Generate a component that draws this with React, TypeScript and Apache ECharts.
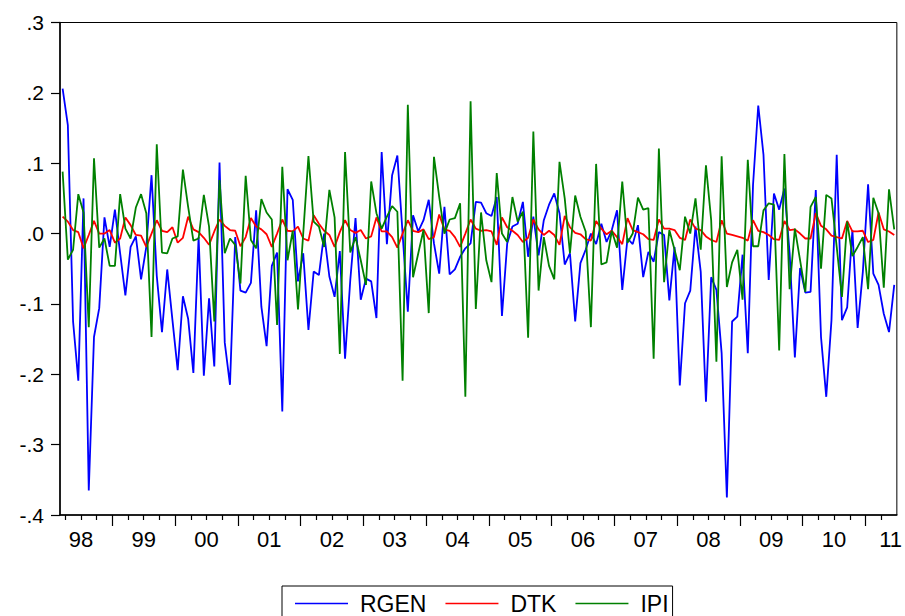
import React, { useEffect, useRef } from "react";
import * as echarts from "echarts";

// Monthly observations, 1998M03 .. 2011M06 (160 obs)
const START_MONTH_INDEX = 2; // March (0-based months since Jan 1998)

const yearLabels = ["98", "99", "00", "01", "02", "03", "04", "05", "06", "07", "08", "09", "10", "11"];
const yTickLabels: Record<string, string> = {
  "0.3": ".3", "0.2": ".2", "0.1": ".1", "0.0": ".0",
  "-0.1": "-.1", "-0.2": "-.2", "-0.3": "-.3", "-0.4": "-.4",
};

const RGEN = [
  0.206, 0.154, -0.125, -0.209, 0.05, -0.365, -0.147, -0.106, 0.023, -0.019,
  0.034, -0.028, -0.088, -0.019, -0.004, -0.065, -0.019, 0.083, -0.06, -0.14,
  -0.051, -0.123, -0.194, -0.089, -0.121, -0.198, -0.005, -0.202, -0.092, -0.189,
  0.101, -0.155, -0.215, -0.005, -0.081, -0.084, -0.07, 0.033, -0.104, -0.16,
  -0.046, -0.027, -0.253, 0.063, 0.048, -0.068, -0.028, -0.137, -0.054, -0.059,
  0.0, -0.061, -0.09, -0.025, -0.178, -0.066, 0.022, -0.094, -0.064, -0.068,
  -0.12, 0.116, -0.015, 0.083, 0.111, 0.0, -0.111, 0.026, 0.003, 0.019,
  0.048, -0.014, -0.057, 0.038, -0.058, -0.051, -0.033, -0.021, -0.014, 0.045,
  0.044, 0.029, 0.025, 0.052, -0.117, -0.014, 0.01, 0.014, 0.045, -0.033,
  0.024, -0.031, 0.019, 0.041, 0.057, 0.029, -0.044, -0.028, -0.125, -0.042,
  -0.023, 0.0, -0.015, 0.014, -0.012, 0.005, 0.033, -0.08, -0.007, -0.015,
  0.012, -0.062, -0.026, -0.04, 0.002, -0.002, -0.095, -0.019, -0.216, -0.099,
  -0.081, 0.01, -0.054, -0.239, -0.062, -0.08, -0.17, -0.375, -0.125, -0.118,
  -0.03, -0.17, 0.069, 0.182, 0.112, -0.066, 0.057, 0.034, 0.064, -0.028,
  -0.176, -0.049, -0.084, -0.083, 0.062, -0.147, -0.232, -0.123, 0.112, -0.123,
  -0.105, 0.005, -0.134, -0.054, 0.07, -0.057, -0.073, -0.114, -0.14, -0.073,
];

const DTK = [
  0.024, 0.017, 0.005, 0.002, -0.021, -0.002, 0.018, 0.0, 0.0, 0.005,
  -0.013, -0.007, 0.023, 0.012, -0.002, -0.003, -0.019, 0.0, 0.019, 0.004,
  0.002, 0.009, -0.013, -0.006, 0.024, 0.006, 0.002, -0.006, -0.016, 0.003,
  0.02, 0.011, 0.005, 0.004, -0.018, -0.005, 0.022, 0.01, 0.006, -0.001,
  -0.019, 0.0, 0.02, 0.004, 0.003, 0.01, -0.007, -0.01, 0.026, 0.014,
  0.004, -0.002, -0.019, 0.002, 0.019, 0.005, 0.001, 0.005, -0.007, -0.004,
  0.023, 0.003, 0.003, -0.005, -0.02, 0.0, 0.019, 0.004, 0.002, 0.006,
  -0.008, -0.005, 0.027, 0.006, 0.004, -0.005, -0.019, 0.0, 0.02, 0.007,
  0.004, 0.005, 0.003, -0.016, 0.023, 0.009, 0.004, -0.002, -0.012, -0.006,
  0.02, 0.006, -0.002, 0.004, -0.002, -0.016, 0.025, 0.009, 0.001, -0.001,
  -0.008, -0.01, 0.018, 0.007, -0.001, 0.004, -0.005, -0.015, 0.022, 0.005,
  0.002, -0.001, -0.008, -0.009, 0.02, 0.007, 0.007, 0.005, -0.006, -0.009,
  0.02, 0.007, 0.005, -0.004, -0.009, -0.012, 0.019, 0.0, -0.002, -0.004,
  -0.006, -0.01, 0.019, 0.004, 0.002, -0.002, -0.008, -0.009, 0.018, 0.005,
  0.006, 0.0, -0.007, -0.007, 0.029, 0.011, 0.006, -0.003, -0.005, -0.007,
  0.018, 0.003, 0.003, 0.004, -0.012, -0.009, 0.03, 0.006, 0.003, -0.002,
];

const IPI = [
  0.088, -0.037, -0.023, 0.056, 0.03, -0.133, 0.107, -0.02, -0.007, -0.046,
  -0.046, 0.056, 0.007, -0.007, 0.037, 0.056, 0.029, -0.147, 0.127, -0.027,
  -0.028, -0.007, -0.004, 0.091, 0.038, -0.01, -0.007, 0.055, 0.01, -0.125,
  0.076, -0.028, -0.007, -0.016, -0.071, 0.082, -0.009, -0.021, 0.049, 0.03,
  0.02, -0.13, 0.095, -0.038, 0.004, -0.108, 0.0, 0.11, 0.017, 0.01,
  -0.019, 0.062, 0.023, -0.171, 0.116, -0.027, -0.005, -0.038, -0.073, 0.074,
  0.029, 0.007, 0.024, 0.039, 0.031, -0.209, 0.183, -0.062, -0.028, 0.005,
  -0.113, 0.109, 0.052, 0.0, 0.02, 0.022, 0.043, -0.232, 0.188, -0.107,
  0.03, -0.038, -0.069, 0.086, 0.0, -0.012, 0.052, 0.017, 0.031, -0.148,
  0.145, -0.081, -0.005, -0.046, -0.065, 0.102, 0.05, -0.028, 0.054, 0.024,
  0.003, -0.133, 0.099, -0.044, -0.041, 0.004, -0.02, 0.074, -0.013, 0.0,
  0.051, 0.034, 0.036, -0.178, 0.121, -0.069, 0.005, -0.023, -0.052, 0.024,
  0.0, 0.05, -0.023, 0.097, 0.019, -0.182, 0.11, -0.076, -0.041, -0.023,
  -0.094, 0.105, -0.018, -0.018, 0.033, 0.043, 0.041, -0.166, 0.113, -0.079,
  0.007, -0.038, -0.083, 0.038, 0.052, -0.05, 0.055, 0.05, -0.019, -0.09,
  0.017, -0.032, -0.019, -0.005, -0.079, 0.051, 0.029, -0.077, 0.063, 0.006,
];

const FONT = "'Liberation Sans', Arial, Helvetica, sans-serif";

export default function App() {
  const ref = useRef<HTMLDivElement>(null);
  useEffect(() => {
    if (!ref.current) return;
    const chart = echarts.init(ref.current, undefined, { renderer: "svg" });
    const n = RGEN.length;
    const xMin = START_MONTH_INDEX;
    const xMax = START_MONTH_INDEX + n;
    const toPts = (arr: number[]) => arr.map((v, i) => [START_MONTH_INDEX + i + 0.5, v]);

    const yearTicks: number[] = [];
    const quarterTicks: number[] = [];
    for (let m = Math.ceil(xMin / 3) * 3; m < xMax; m += 3) {
      if (m <= xMin) continue;
      if (m % 12 === 0) yearTicks.push(m);
      else quarterTicks.push(m);
    }
    const labelVals = yearLabels.map((_, k) => {
      const c = k * 12 + 6;
      return Math.min(Math.max(c, xMin + 0.5), xMax - 1.2);
    });

    const option: any = {
      animation: false,
      backgroundColor: "#fff",
      grid: {
        left: 60, right: 2.5, top: 22.5, bottom: 101,
        show: true, borderColor: "#000", borderWidth: 1, backgroundColor: "transparent",
      },
      legend: {
        left: 282, top: 586,
        orient: "horizontal",
        data: ["RGEN", "DTK", "IPI"],
        icon: "rect",
        itemWidth: 53, itemHeight: 1.5,
        itemGap: 19,
        borderColor: "#000", borderWidth: 1,
        padding: [6, 4, 10, 13],
        textStyle: { fontFamily: FONT, fontSize: 23, color: "#000", padding: [0, 0, 0, 7] },
        selectedMode: false,
      },
      xAxis: [
        {
          type: "value", min: xMin, max: xMax, position: "bottom",
          axisLine: { show: true, onZero: false, lineStyle: { color: "#000", width: 1.5 } },
          axisTick: { show: true, customValues: yearTicks, length: 11, lineStyle: { color: "#000", width: 1.2 } },
          axisLabel: {
            show: true, customValues: labelVals, margin: 13,
            fontFamily: FONT, fontSize: 22, color: "#000",
            formatter: (v: number) => yearLabels[Math.min(yearLabels.length - 1, Math.floor(v / 12))],
          },
          splitLine: { show: false },
        },
        {
          type: "value", min: xMin, max: xMax, position: "bottom",
          axisLine: { show: false, onZero: false },
          axisTick: { show: true, customValues: quarterTicks, length: 5, lineStyle: { color: "#000", width: 1.2 } },
          axisLabel: { show: false },
          splitLine: { show: false },
        },
      ],
      yAxis: {
        type: "value", min: -0.4, max: 0.3, interval: 0.1,
        axisLine: { show: true, onZero: false, lineStyle: { color: "#000", width: 1.5 } },
        axisTick: { show: true, length: 9, lineStyle: { color: "#000", width: 1.2 } },
        axisLabel: {
          margin: 16, fontFamily: FONT, fontSize: 21, color: "#000",
          formatter: (v: number) => {
            const k = (Math.round(v * 10) / 10).toFixed(1);
            return yTickLabels[k === "-0.0" ? "0.0" : k] ?? k;
          },
        },
        splitLine: { show: false },
      },
      series: [
        { name: "RGEN", type: "line", data: toPts(RGEN), xAxisIndex: 0, showSymbol: false, symbol: "none", lineStyle: { color: "#0000FF", width: 1.8 }, itemStyle: { color: "#0000FF" } },
        { name: "DTK", type: "line", data: toPts(DTK), xAxisIndex: 0, showSymbol: false, symbol: "none", lineStyle: { color: "#FF0000", width: 1.8 }, itemStyle: { color: "#FF0000" } },
        { name: "IPI", type: "line", data: toPts(IPI), xAxisIndex: 0, showSymbol: false, symbol: "none", lineStyle: { color: "#008000", width: 1.8 }, itemStyle: { color: "#008000" } },
      ],
    };
    chart.setOption(option);
    return () => chart.dispose();
  }, []);
  return (
    <div
      ref={ref}
      style={{ position: "fixed", left: 0, top: 0, width: 905, height: 616, background: "#fff" }}
    />
  );
}
